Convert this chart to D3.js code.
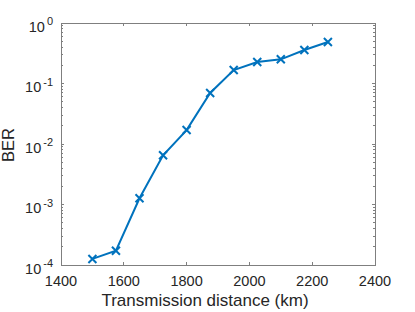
<!DOCTYPE html>
<html><head><meta charset="utf-8">
<script src="https://cdn.jsdelivr.net/npm/d3@7"></script>
<style>body{margin:0;background:#fff}svg{display:block}text{font-family:"Liberation Sans",Arial,Helvetica,sans-serif}</style>
</head><body>
<script>
const distances = [1500, 1575, 1650, 1725, 1800, 1875, 1950, 2025, 2100, 2175, 2250];
const berValues = [1.26e-4, 1.72e-4, 1.27e-3, 6.5e-3, 0.017, 0.0697, 0.167, 0.227, 0.251, 0.358, 0.485];
const xTicks = [1400, 1600, 1800, 2000, 2200, 2400];
const yTickExps = [-4, -3, -2, -1, 0];
const xLabel = "Transmission distance (km)";
const yLabel = "BER";

const W = 415, H = 312;
const m = {l: 61, r: 40, t: 23, b: 47};
const svg = d3.select("body").append("svg").attr("width", W).attr("height", H);
const x = d3.scaleLinear().domain([1400, 2400]).range([m.l, W - m.r]);
const y = d3.scaleLog().domain([1e-4, 1]).range([H - m.b, m.t]);
const axisCol = "#7f7f7f", textCol = "#262626";

const g = svg.append("g");
g.append("rect").attr("x", x(1400)).attr("y", y(1)).attr("width", x(2400) - x(1400)).attr("height", y(1e-4) - y(1))
  .attr("fill", "none").attr("stroke", axisCol).attr("stroke-width", 1).attr("shape-rendering", "crispEdges");

xTicks.forEach(t => {
  g.append("line").attr("x1", x(t)).attr("x2", x(t)).attr("y1", y(1e-4)).attr("y2", y(1e-4) - 3).attr("stroke", axisCol).attr("shape-rendering", "crispEdges");
  g.append("line").attr("x1", x(t)).attr("x2", x(t)).attr("y1", y(1)).attr("y2", y(1) + 3).attr("stroke", axisCol).attr("shape-rendering", "crispEdges");
  g.append("text").attr("x", x(t)).attr("y", y(1e-4) + 20.5).attr("text-anchor", "middle").attr("font-size", 14.5).attr("fill", textCol).text(t);
});

yTickExps.forEach(e => {
  const v = Math.pow(10, e);
  [x(1400), x(2400)].forEach((px, i) => {
    const d = i === 0 ? 1 : -1;
    g.append("line").attr("x1", px).attr("x2", px + d * 3).attr("y1", y(v)).attr("y2", y(v)).attr("stroke", axisCol).attr("shape-rendering", "crispEdges");
    if (e < 0) {
      for (let k = 2; k <= 9; k++) {
        const mv = k * v;
        g.append("line").attr("x1", px).attr("x2", px + d * 2).attr("y1", y(mv)).attr("y2", y(mv)).attr("stroke", axisCol).attr("shape-rendering", "crispEdges");
      }
    }
  });
  const t = g.append("text").attr("x", x(1400) - 8).attr("y", y(v) + 8.5).attr("text-anchor", "end").attr("fill", textCol).attr("font-size", 14.5);
  t.append("tspan").text("10");
  t.append("tspan").attr("dx", 2).attr("dy", -6.5).attr("font-size", 11).text(e);
});

svg.append("text").attr("x", 205).attr("y", 306).attr("text-anchor", "middle").attr("font-size", 17).attr("fill", textCol).text(xLabel);
svg.append("text").attr("transform", `translate(14,145) rotate(-90)`).attr("text-anchor", "middle").attr("font-size", 16.5).attr("fill", textCol).text(yLabel);

const col = "#0072BD";
const pts = distances.map((d, i) => [x(d), y(berValues[i])]);
svg.append("path").attr("d", d3.line()(pts)).attr("fill", "none").attr("stroke", col).attr("stroke-width", 2);
const s = 4;
svg.selectAll(".mk").data(pts).join("path").attr("class", "mk")
  .attr("d", p => `M${p[0]-s},${p[1]-s}L${p[0]+s},${p[1]+s}M${p[0]-s},${p[1]+s}L${p[0]+s},${p[1]-s}`)
  .attr("stroke", col).attr("stroke-width", 2).attr("fill", "none");
</script>
</body></html>
